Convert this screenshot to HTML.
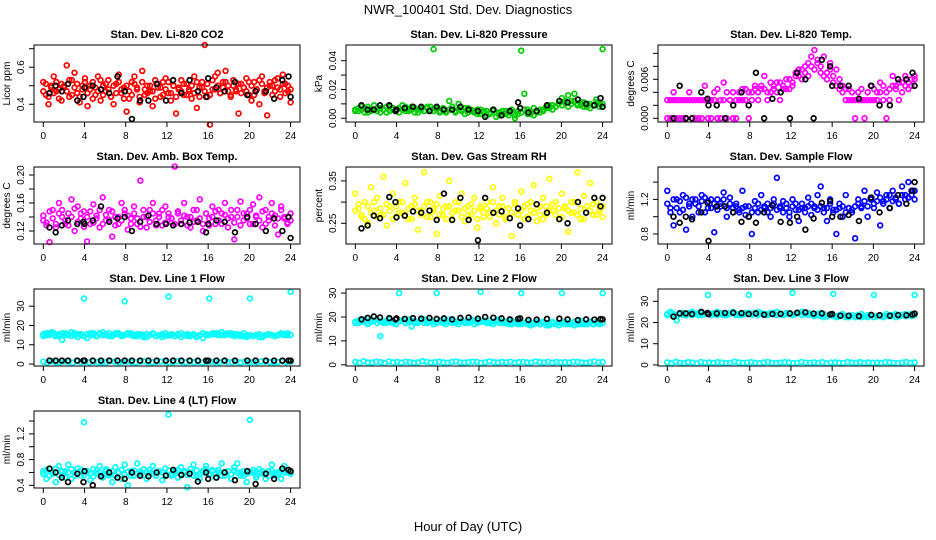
<!DOCTYPE html>
<html><head><meta charset="utf-8"><style>
html,body{margin:0;padding:0;background:#fff}
svg{display:block}
text{font-family:"Liberation Sans",Arial,sans-serif}
</style></head><body>
<svg id="chart" width="936" height="540" viewBox="0 0 936 540" xmlns="http://www.w3.org/2000/svg">
<rect width="936" height="540" fill="#fff"/>
<text x="468" y="14" font-size="13" text-anchor="middle">NWR_100401  Std. Dev. Diagnostics</text>
<text x="468" y="531" font-size="13" text-anchor="middle">Hour of Day (UTC)</text>
</svg>
<script>
const hoursK = [0.6,1.2,1.8,2.4,3.3,3.9,4.0,4.8,5.6,6.4,7.2,7.9,8.6,9.4,10.2,11.0,11.9,12.6,13.4,14.2,15.0,15.8,16.0,16.8,17.6,18.6,19.8,20.6,21.6,22.4,23.2,23.8,24.0];
const xTicks = [0,4,8,12,16,20,24];

const co2 = [0.52,0.45,0.40,0.50,0.55,0.47,0.43,0.51,0.49,0.61,0.44,0.53,0.57,0.46,0.41,0.50,0.54,0.39,0.48,0.52,0.45,0.55,0.42,0.50,0.47,0.53,0.44,0.40,0.51,0.56,0.46,0.49,0.36,0.43,0.52,0.55,0.48,0.41,0.58,0.45,0.50,0.47,0.39,0.53,0.49,0.44,0.52,0.54,0.46,0.42,0.50,0.35,0.48,0.53,0.45,0.51,0.47,0.43,0.55,0.38,0.49,0.52,0.72,0.44,0.29,0.48,0.55,0.57,0.46,0.52,0.58,0.50,0.44,0.53,0.47,0.35,0.51,0.49,0.54,0.45,0.42,0.52,0.48,0.40,0.55,0.47,0.34,0.50,0.45,0.53,0.49,0.44,0.56,0.51,0.47,0.41];
const co2B = [0.47,0.51,0.44,0.49,0.46,0.52,0.48,0.42,0.50,0.47,0.53,0.45,0.49,0.51,0.44,0.48,0.52,0.46,0.50,0.43,0.49,0.47,0.53,0.45,0.51,0.48,0.44,0.50,0.46,0.52,0.48,0.43,0.50,0.47,0.45,0.51,0.49,0.44,0.52,0.48,0.46,0.50,0.47,0.43,0.51,0.49,0.45,0.48,0.52,0.46,0.50,0.44,0.49,0.47,0.51,0.45,0.48,0.50,0.46,0.52,0.44,0.49,0.47,0.51,0.45,0.53,0.48,0.50,0.46,0.49,0.52,0.47,0.45,0.50,0.48,0.51,0.46,0.49,0.47,0.52,0.50,0.45,0.48,0.53,0.51,0.46,0.49,0.52,0.50,0.47,0.54,0.48,0.51,0.46,0.50,0.48];
const kCO2 = [0.46,0.50,0.47,0.51,0.42,0.44,0.49,0.50,0.48,0.46,0.55,0.47,0.32,0.42,0.42,0.51,0.42,0.53,0.46,0.53,0.47,0.44,0.54,0.49,0.47,0.52,0.45,0.47,0.47,0.43,0.53,0.55,0.44];

const press = [0.006,0.005,0.008,0.007,0.004,0.006,0.009,0.005,0.007,0.006,0.004,0.008,0.006,0.005,0.007,0.009,0.005,0.006,0.008,0.004,0.006,0.007,0.005,0.008,0.006,0.048,0.007,0.005,0.006,0.004,0.012,0.008,0.005,0.010,0.006,0.003,0.007,0.005,0.004,0.006,0.003,0.005,0.002,0.004,0.006,0.001,0.004,0.003,0.005,0.002,0.004,0.000,0.003,0.047,0.017,0.006,0.003,0.002,0.005,0.004,0.006,0.008,0.007,0.009,0.008,0.010,0.014,0.012,0.016,0.012,0.017,0.010,0.009,0.011,0.008,0.010,0.009,0.013,0.010,0.048];
const pressB = [0.005,0.007,0.006,0.004,0.008,0.005,0.006,0.007,0.004,0.006,0.008,0.005,0.007,0.006,0.004,0.006,0.008,0.005,0.006,0.007,0.004,0.006,0.005,0.007,0.008,0.005,0.006,0.004,0.007,0.005,0.006,0.008,0.004,0.006,0.005,0.007,0.004,0.006,0.005,0.003,0.006,0.004,0.005,0.003,0.005,0.004,0.002,0.005,0.003,0.004,0.006,0.002,0.005,0.004,0.006,0.003,0.005,0.007,0.004,0.006,0.005,0.007,0.009,0.006,0.008,0.010,0.009,0.011,0.008,0.010,0.012,0.009,0.011,0.008,0.010,0.007,0.009,0.011,0.008,0.010];
const kPress = [0.009,0.006,0.006,0.009,0.009,0.005,0.006,0.007,0.008,0.008,0.005,0.008,0.006,0.006,0.008,0.006,0.005,0.001,0.006,0.002,0.005,0.011,0.007,0.004,0.005,0.009,0.012,0.011,0.013,0.010,0.009,0.014,0.008];

const temp = [0.000,0.0028,0.004,0.000,0.0028,0.000,0.0028,0.004,0.000,0.0028,0.000,0.0028,0.005,0.000,0.0028,0.004,0.000,0.0028,0.0055,0.000,0.0028,0.004,0.000,0.0028,0.0045,0.0028,0.000,0.004,0.005,0.0028,0.0045,0.0065,0.0028,0.004,0.005,0.0055,0.0028,0.0045,0.006,0.0045,0.005,0.0065,0.0075,0.006,0.008,0.0085,0.0095,0.0105,0.0090,0.0080,0.0095,0.0070,0.0085,0.0065,0.0075,0.0060,0.0050,0.0045,0.0028,0.004,0.000,0.0028,0.0045,0.000,0.0028,0.005,0.0028,0.004,0.0055,0.0028,0.000,0.0045,0.0065,0.005,0.0028,0.0055,0.0065,0.0045,0.006,0.0065];
const tempB = [0.0028,0.000,0.0028,0.0028,0.000,0.0028,0.000,0.0028,0.0028,0.000,0.0028,0.000,0.0028,0.0028,0.000,0.0028,0.0045,0.000,0.0028,0.004,0.0028,0.000,0.0028,0.004,0.0028,0.0045,0.004,0.0028,0.0045,0.004,0.005,0.0045,0.004,0.0055,0.0045,0.004,0.0055,0.005,0.0045,0.006,0.0055,0.007,0.0065,0.0075,0.007,0.0065,0.008,0.0075,0.0085,0.007,0.0065,0.006,0.0075,0.0055,0.005,0.0045,0.004,0.0028,0.0045,0.0028,0.0028,0.004,0.0028,0.0028,0.004,0.0028,0.0045,0.0028,0.004,0.005,0.004,0.0028,0.005,0.0045,0.0055,0.004,0.005,0.0055,0.005,0.006];
const kTemp = [0.000,0.005,0.000,0.000,0.004,0.003,0.002,0.002,0.000,0.002,0.004,0.002,0.007,0.000,0.003,0.004,0.000,0.007,0.006,0.000,0.009,0.008,0.005,0.005,0.005,0.003,0.005,0.002,0.002,0.006,0.006,0.007,0.005];

const amb = [0.135,0.128,0.104,0.15,0.125,0.16,0.14,0.13,0.145,0.165,0.12,0.155,0.138,0.148,0.105,0.13,0.158,0.142,0.125,0.168,0.135,0.15,0.112,0.14,0.13,0.16,0.145,0.122,0.138,0.155,0.13,0.192,0.14,0.125,0.15,0.16,0.135,0.145,0.128,0.155,0.14,0.132,0.212,0.145,0.13,0.16,0.14,0.125,0.15,0.135,0.165,0.12,0.145,0.138,0.155,0.13,0.15,0.145,0.16,0.125,0.14,0.108,0.15,0.162,0.135,0.145,0.13,0.158,0.14,0.168,0.125,0.15,0.135,0.16,0.142,0.115,0.155,0.138,0.13,0.135];
const ambB = [0.142,0.132,0.148,0.138,0.13,0.145,0.15,0.135,0.128,0.14,0.152,0.133,0.145,0.126,0.14,0.148,0.132,0.138,0.15,0.13,0.143,0.136,0.148,0.128,0.14,0.135,0.15,0.142,0.13,0.145,0.138,0.126,0.15,0.14,0.133,0.145,0.128,0.14,0.15,0.132,0.145,0.138,0.13,0.148,0.135,0.142,0.128,0.14,0.133,0.15,0.138,0.13,0.145,0.128,0.14,0.148,0.135,0.13,0.143,0.138,0.15,0.132,0.14,0.128,0.145,0.138,0.15,0.13,0.142,0.135,0.148,0.13,0.14,0.145,0.128,0.138,0.15,0.14,0.132,0.145];
const kAmb = [0.125,0.118,0.128,0.135,0.13,0.133,0.13,0.135,0.155,0.133,0.138,0.14,0.12,0.133,0.142,0.13,0.13,0.128,0.13,0.132,0.133,0.118,0.13,0.135,0.133,0.118,0.14,0.13,0.12,0.138,0.12,0.14,0.11];

const rh = [0.32,0.285,0.265,0.30,0.25,0.335,0.28,0.31,0.27,0.36,0.245,0.29,0.32,0.265,0.30,0.275,0.345,0.26,0.29,0.31,0.235,0.28,0.37,0.265,0.30,0.285,0.225,0.315,0.27,0.29,0.35,0.26,0.30,0.28,0.32,0.255,0.29,0.27,0.31,0.24,0.285,0.265,0.30,0.275,0.335,0.25,0.29,0.31,0.265,0.285,0.22,0.30,0.27,0.325,0.26,0.295,0.28,0.34,0.255,0.29,0.31,0.27,0.355,0.28,0.30,0.26,0.32,0.285,0.23,0.30,0.275,0.37,0.26,0.315,0.29,0.345,0.27,0.30,0.28,0.265];
const rhB = [0.28,0.295,0.27,0.26,0.29,0.275,0.30,0.265,0.285,0.27,0.295,0.28,0.26,0.29,0.275,0.30,0.27,0.285,0.26,0.295,0.28,0.27,0.29,0.30,0.265,0.28,0.295,0.27,0.285,0.26,0.29,0.275,0.28,0.30,0.265,0.285,0.27,0.295,0.28,0.26,0.29,0.275,0.285,0.265,0.30,0.28,0.27,0.29,0.26,0.285,0.275,0.295,0.27,0.28,0.29,0.265,0.30,0.275,0.285,0.27,0.26,0.29,0.28,0.295,0.27,0.285,0.265,0.29,0.28,0.275,0.30,0.27,0.285,0.26,0.29,0.28,0.295,0.27,0.285,0.29];
const kRH = [0.238,0.245,0.268,0.262,0.312,0.30,0.264,0.268,0.278,0.275,0.28,0.258,0.32,0.258,0.31,0.258,0.21,0.31,0.275,0.278,0.262,0.285,0.245,0.26,0.295,0.275,0.26,0.25,0.30,0.275,0.31,0.29,0.31];

const flow = [1.3,1.1,0.9,1.2,1.05,1.25,0.85,1.15,1.0,1.2,1.12,1.25,1.05,1.18,1.1,0.82,1.2,1.15,1.28,1.0,1.22,1.1,1.15,1.05,1.3,1.12,1.0,0.8,1.18,1.05,1.25,1.1,1.15,1.0,1.2,1.45,1.1,1.05,1.15,1.0,1.2,1.08,0.95,1.15,1.1,1.22,1.02,1.12,1.25,1.35,1.1,0.95,1.2,1.08,0.8,1.15,1.0,1.25,1.1,1.05,0.75,1.2,1.12,1.3,1.0,1.22,1.1,1.28,0.9,1.18,1.25,1.1,1.3,1.2,1.15,1.35,1.25,1.4,1.3,1.3];
const flowB = [1.15,1.05,1.2,1.1,1.18,1.08,1.22,1.12,1.2,1.15,1.05,1.18,1.22,1.1,1.2,1.15,1.08,1.12,1.2,1.1,1.15,1.05,1.12,1.08,1.1,1.02,1.12,1.05,1.1,1.15,1.08,1.12,1.05,1.1,1.15,1.08,1.12,1.18,1.1,1.05,1.12,1.15,1.08,1.1,1.05,1.12,1.15,1.1,1.08,1.12,1.05,1.1,1.15,1.05,1.08,1.1,1.12,1.05,1.1,1.08,1.12,1.15,1.1,1.18,1.12,1.2,1.15,1.18,1.22,1.15,1.2,1.25,1.18,1.22,1.15,1.25,1.2,1.22,1.25,1.2];
const kFlow = [1.0,0.93,1.0,0.97,1.05,1.16,0.72,1.12,1.12,1.05,0.94,1.0,0.93,1.05,1.13,0.94,0.93,1.0,0.85,0.98,1.16,1.18,1.0,1.0,1.02,0.95,1.22,1.05,1.1,1.25,1.15,1.3,1.4];

const lowFlow = [1.2,0.8,1.5,1.0,0.9,1.3,1.1,0.7,1.4,1.0,1.2,0.9,1.3,1.1,0.8,1.0,1.5,1.2,0.9,1.1,1.3,1.0,0.8,1.2,1.4,1.0,0.9,1.1,1.3,1.2,0.8,1.0,1.4,1.1,0.9,1.2,1.0,1.3,0.8,1.1,1.2,1.0,0.9,1.4,1.1,1.0,1.3,0.8,1.2,1.0,1.1,0.9,1.3,1.2,1.0,0.8,1.1,1.4,1.0,1.2];

const line1 = [15.5,16,15,16.5,14.5,15.5,12.5,16,15,16.5,15,14,15.5,34,13.5,15,16,14.5,15.5,16.5,15,16,14.5,15.5,16,15,32.5,16,15,14.5,15.5,15,14,15.5,15,16,14.5,15,15.5,16,35,15,14.5,15.5,16,15,14.5,15,15.5,14,15,13.5,15,34,15.5,16,15,16.5,15,15.5,16,15.5,15,14.5,16,15,34,14.5,15,15.5,14,15,15.5,15,14.5,15,16,15.5,15,37.5];
const line1B = [14.5,15,16,15.5,15,14.5,16,15,15.5,14.5,16,15.5,15,14.5,15.5,16,15,14.5,16,15,15.5,14.5,15,16,15.5,14.5,15,15.5,16,15,14.5,15.5,15,14,15,15.5,14.5,15,14,14.5,15,15.5,14.5,15,14,15,15.5,14.5,15,14.5,15,16,15.5,15,16,15.5,16,15,15.5,16,15,14.5,15.5,15,14.5,14,15,14.5,15,14,14.5,15,15.5,15,14.5,15,15.5,15,16,15];
const kLine1 = [1.8,1.8,1.8,1.8,1.8,1.8,1.8,1.8,1.8,1.8,1.8,1.8,1.8,1.8,1.8,1.8,1.8,1.8,1.8,1.8,1.8,1.8,1.8,1.8,1.8,1.8,1.8,1.8,1.8,1.8,1.8,1.8,1.8];

const line2 = [18,17.5,19,18,17,19,18.5,17.5,12,18,17.5,19,18,17,30,18.5,17.5,19,16,18,17.5,18.5,19,17.5,18,17,30,18.5,17.5,18,19,17.5,18,17,18.5,17.5,18,19,17,18.5,30.5,18,17.5,18.5,17,18,19,17.5,18,17,18.5,17.5,17,30,17.5,18,16.5,17.5,18,17,18,17.5,16.5,18,17,17.5,30,18,17,17.5,18,17,18.5,17,17.5,18,17,18,17.5,30];
const line2B = [17.5,18.5,18,19,17.5,18,18.5,19,18,17.5,18.5,18,17.5,19,18,18.5,17.5,18,18.5,17.5,18,19,17.5,18,18.5,18,17.5,18,18.5,17,18,18.5,17.5,18,18.5,18,17.5,18,18.5,17.5,18,18.5,18,17.5,18,18.5,17.5,18,17.5,18,17,17.5,18,17,17.5,17,16.5,17,17.5,17,17.5,16.5,17,17.5,17,16.5,17.5,17,17.5,17,16.5,17.5,17,17.5,17,17.5,17,17.5,17,17.5];
const kLine2 = [19.0,19.6,20.2,19.8,19.5,19.0,19.4,19.2,19.5,19.3,19.6,19.2,19.4,19.0,19.6,19.8,19.3,20.0,19.7,19.4,19.0,19.2,19.4,18.8,18.9,19.2,19.3,19.0,18.7,19.0,18.9,19.1,19.0];

const line3 = [24,25,23.5,21,24,24.5,23.5,24,25,24,23.5,24.5,24,33,24,24.5,25,24,23.5,24,24.5,25,24,23.5,24,24.5,33,24,24.5,25,24,23.5,24,24.5,24,25,24,23.5,24.5,24,34,24,24.5,25,24,24.5,24,23.5,24,24.5,24,23,23.5,33.5,23,23.5,24,23,22.5,23.5,23,23.5,24,23,22.5,23.5,33,23,23.5,23,24,23,23.5,24,23,23.5,24,23.5,24,33];
const line3B = [23.5,24.5,24,23,24.5,23.5,24,24.5,23.5,24,24.5,23.5,24,24.5,23.5,24,23.5,24.5,24,23.5,24,24.5,23.5,24,23.5,24,24.5,23.5,24,23.5,24.5,24,23.5,24,24.5,23.5,24,23.5,24,24.5,23.5,24,24.5,23.5,24,23.5,24,23,23.5,23,22.5,23,23.5,23,22.5,23,23.5,22.5,23,23.5,22.5,23,22.5,23,23.5,23,22.5,23,23.5,22.5,23,23.5,23,22.5,23,23.5,23,23.5,23,23.5];
const kLine3 = [22.8,24.3,24.3,24.0,25.0,24.5,23.9,24.3,24.5,24.6,24.4,24.0,24.3,23.7,24.0,24.1,24.3,24.6,24.8,24.2,24.3,23.8,24.0,23.2,23.2,23.0,23.6,23.4,23.2,23.5,23.4,23.7,24.2];

const line4 = [0.62,0.5,0.65,0.58,0.45,0.7,0.55,0.62,0.72,0.5,0.6,0.66,0.55,1.38,0.6,0.48,0.65,0.58,0.7,0.52,0.62,0.55,0.45,0.68,0.6,0.5,0.72,0.4,0.62,0.55,0.74,0.58,0.65,0.5,0.6,0.7,0.55,0.62,0.48,0.66,1.5,0.58,0.62,0.52,0.68,0.6,0.37,0.65,0.72,0.55,0.5,0.62,0.7,0.58,0.64,0.52,0.6,0.74,0.55,0.62,0.5,0.68,0.74,0.6,0.55,0.45,1.42,0.6,0.52,0.65,0.58,0.5,0.62,0.72,0.55,0.6,0.5,0.7,0.6,0.58];
const line4B = [0.58,0.64,0.55,0.6,0.66,0.56,0.62,0.52,0.6,0.65,0.55,0.6,0.64,0.56,0.62,0.58,0.54,0.63,0.6,0.56,0.65,0.58,0.62,0.55,0.6,0.64,0.57,0.61,0.55,0.63,0.58,0.62,0.56,0.6,0.64,0.58,0.55,0.62,0.6,0.57,0.63,0.55,0.6,0.64,0.58,0.62,0.56,0.6,0.55,0.63,0.58,0.6,0.65,0.56,0.62,0.58,0.64,0.55,0.6,0.62,0.57,0.63,0.6,0.55,0.62,0.58,0.6,0.64,0.56,0.6,0.62,0.58,0.55,0.63,0.6,0.57,0.62,0.6,0.64,0.6];
const kLine4 = [0.66,0.60,0.52,0.45,0.58,0.45,0.62,0.40,0.54,0.60,0.52,0.50,0.60,0.55,0.54,0.60,0.55,0.64,0.56,0.58,0.46,0.60,0.50,0.52,0.60,0.48,0.62,0.42,0.58,0.50,0.66,0.64,0.62];

const NS = "http://www.w3.org/2000/svg";
const svg = document.getElementById('chart');
const rowTops = [45,167,289,411];
const boxH = 77;

const panels = [
 {name:'co2',title:'Stan. Dev. Li-820 CO2',ylab:'Licor ppm',col:0,row:0,dom:[0.304,0.72],ticks:[0.4,0.5,0.6,0.7],labels:[0.4,0.6],fmt:1,color:'#ff0000',vals:co2,valsB:co2B,k:kCO2},
 {name:'pressure',title:'Stan. Dev. Li-820 Pressure',ylab:'kPa',col:1,row:0,dom:[-0.0026,0.0509],ticks:[0,0.01,0.02,0.03,0.04],labels:[0,0.02,0.04],fmt:2,color:'#00cc00',vals:press,valsB:pressB,k:kPress},
 {name:'temp',title:'Stan. Dev. Li-820 Temp.',ylab:'degrees C',col:2,row:0,dom:[-0.00057,0.01128],ticks:[0,0.002,0.004,0.006,0.008,0.010],labels:[0,0.006],fmt:3,color:'#ff00ff',vals:temp,valsB:tempB,k:kTemp},
 {name:'amb-box-temp',title:'Stan. Dev. Amb. Box Temp.',ylab:'degrees C',col:0,row:1,dom:[0.1014,0.2114],ticks:[0.12,0.14,0.16,0.18,0.20],labels:[0.12,0.16,0.20],fmt:2,color:'#ff00ff',vals:amb,valsB:ambB,k:kAmb},
 {name:'gas-rh',title:'Stan. Dev. Gas Stream RH',ylab:'percent',col:1,row:1,dom:[0.2012,0.3828],ticks:[0.25,0.30,0.35],labels:[0.25,0.35],fmt:2,color:'#ffff00',vals:rh,valsB:rhB,k:kRH},
 {name:'sample-flow',title:'Stan. Dev. Sample Flow',ylab:'ml/min',col:2,row:1,dom:[0.684,1.575],ticks:[0.8,1.0,1.2,1.4],labels:[0.8,1.2],fmt:1,color:'#0000ff',vals:flow,valsB:flowB,k:kFlow},
 {name:'line1-flow',title:'Stan. Dev. Line 1 Flow',ylab:'ml/min',col:0,row:2,dom:[-1,38.9],ticks:[0,10,20,30],labels:[0,10,20,30],fmt:0,color:'#00ffff',vals:line1,valsB:line1B,low:true,k:kLine1},
 {name:'line2-flow',title:'Stan. Dev. Line 2 Flow',ylab:'ml/min',col:1,row:2,dom:[-0.5,31.7],ticks:[0,10,20,30],labels:[0,10,20,30],fmt:0,color:'#00ffff',vals:line2,valsB:line2B,low:true,k:kLine2},
 {name:'line3-flow',title:'Stan. Dev. Line 3 Flow',ylab:'ml/min',col:2,row:2,dom:[-0.5,35.8],ticks:[0,10,20,30],labels:[0,10,20,30],fmt:0,color:'#00ffff',vals:line3,valsB:line3B,low:true,k:kLine3},
 {name:'line4-flow',title:'Stan. Dev. Line 4 (LT) Flow',ylab:'ml/min',col:0,row:3,dom:[0.358,1.556],ticks:[0.4,0.6,0.8,1.0,1.2,1.4],labels:[0.4,0.8,1.2],fmt:1,color:'#00ffff',vals:line4,valsB:line4B,k:kLine4}
];

function mk(tag, attrs, parent){
  const e = document.createElementNS(NS, tag);
  for (const a in attrs) e.setAttribute(a, attrs[a]);
  (parent||svg).appendChild(e);
  return e;
}

panels.forEach(p => {
  const left = 34 + p.col*312, right = left + 266;
  const top = rowTops[p.row], bottom = top + boxH;
  const x0 = 43.3 + p.col*312, xs = 247.3/24;
  const xPx = h => x0 + h*xs;
  const yPx = v => bottom - (v - p.dom[0])/(p.dom[1]-p.dom[0])*boxH;
  const g = mk('g', {});
  
  

  const t = mk('text', {x:(left+right)/2, y:top-7, 'font-size':11, 'font-weight':'bold', 'text-anchor':'middle'}, g);
  t.textContent = p.title;
  
  

  const pts = mk('g', {fill:'none', 'stroke-width':1.7}, g);
  
  
  if (p.low) {
    lowFlow.forEach((v,i) => {
      const c = mk('circle', {cx:xPx(i*24/(lowFlow.length-1)), cy:yPx(v), r:2.4, stroke:p.color}, pts);
      
      
    });
  }
  [p.valsB, p.vals].forEach(arr => {
    const n = arr.length;
    arr.forEach((v,i) => {
      const c = mk('circle', {cx:xPx(i*24/(n-1)), cy:yPx(v), r:2.4, stroke:p.color}, pts);
      
      
    });
  });
  p.k.forEach((v,i) => {
    const c = mk('circle', {cx:xPx(hoursK[i]), cy:yPx(v), r:2.4, stroke:'#000'}, pts);
    
    
  });

  const box = mk('rect', {x:left, y:top, width:right-left, height:boxH, fill:'none', stroke:'#000', 'stroke-width':1}, g);
  
  

  xTicks.forEach(h => {
    const xx = xPx(h);
    mk('line', {x1:xx, x2:xx, y1:bottom, y2:bottom+5, stroke:'#000'}, g);
    const tl = mk('text', {x:xx, y:bottom+17, 'font-size':10, 'text-anchor':'middle'}, g);
    tl.textContent = h;
    
    
  });
  p.ticks.forEach(v => {
    const yy = yPx(v);
    mk('line', {x1:left-5, x2:left, y1:yy, y2:yy, stroke:'#000'}, g);
  });
  p.labels.forEach(v => {
    const yy = yPx(v);
    const lx = left - 10;
    const tl = mk('text', {x:lx, y:yy, 'font-size':10, 'text-anchor':'middle', transform:`rotate(-90 ${lx} ${yy})`}, g);
    tl.textContent = v.toFixed(p.fmt);
    
    
  });
  const ax = left - 24, ay = (top+bottom)/2;
  const yl = mk('text', {x:ax, y:ay, 'font-size':10, 'text-anchor':'middle', transform:`rotate(-90 ${ax} ${ay})`}, g);
  yl.textContent = p.ylab;
  
  
});
</script>
</body></html>
